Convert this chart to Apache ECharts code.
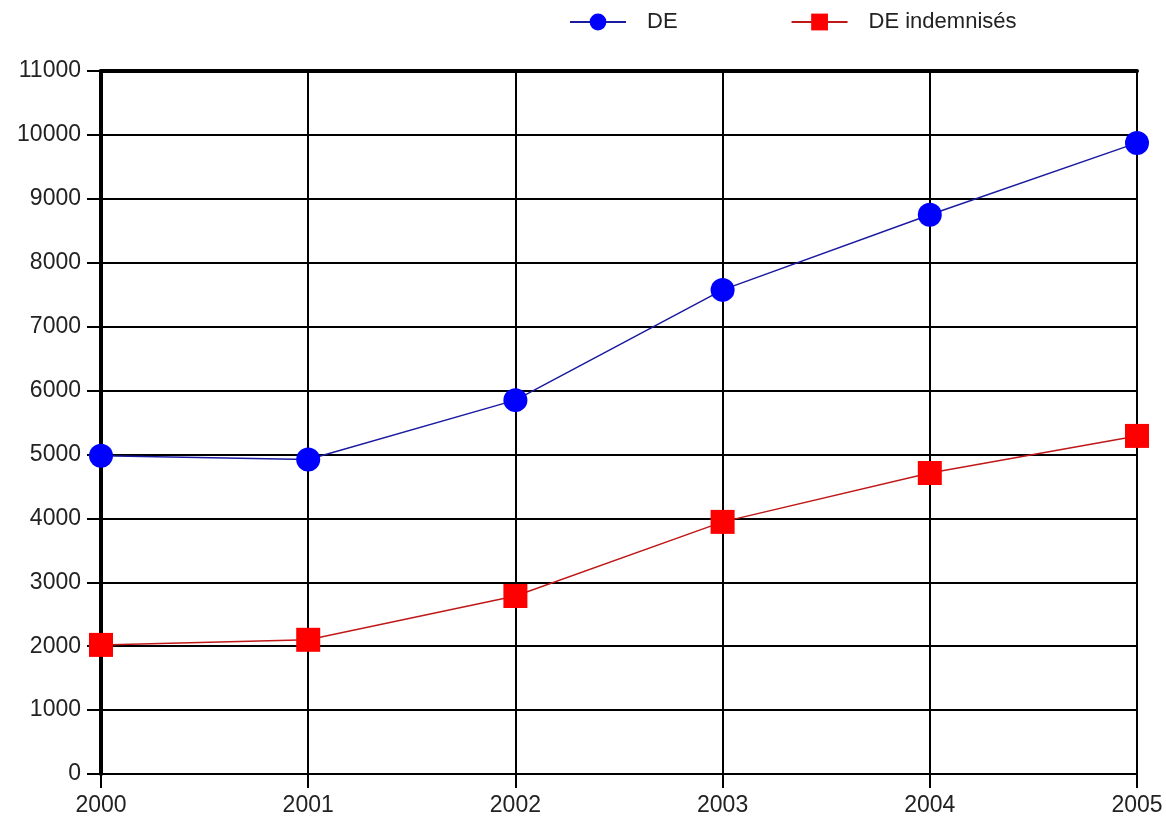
<!DOCTYPE html>
<html><head><meta charset="utf-8">
<script src="https://cdn.jsdelivr.net/npm/echarts@6/dist/echarts.min.js"></script>
<style>html,body{margin:0;padding:0;background:#fff}#c{width:1166px;height:819px}</style>
</head><body><div id="c"></div>
<script>
const categories = ['2000','2001','2002','2003','2004','2005'];
const deValues = [4980, 4920, 5850, 7575, 8750, 9875];
const deIndemnisesValues = [2020, 2100, 2785, 3945, 4710, 5290];
const seriesNames = ['DE', 'DE indemnisés'];

const chart = echarts.init(document.getElementById('c'));
const font = 'Liberation Sans, Arial, sans-serif';
chart.setOption({
  animation: false,
  backgroundColor: '#fff',
  textStyle: {fontFamily: font},
  legend: {
    top: 6, left: 564,
    itemWidth: 56, itemHeight: 21, itemGap: 113,
    textStyle: {fontSize: 22, color: '#222', fontFamily: font, padding: [0,0,0,16]},
    data: seriesNames
  },
  grid: {left: 101, right: 29, top: 71, bottom: 45, containLabel: false},
  xAxis: [{
    type: 'category', data: categories, boundaryGap: false,
    axisLine: {lineStyle: {color: '#000', width: 2}},
    axisTick: {show: true, length: 14, lineStyle: {color: '#000', width: 2}},
    axisLabel: {fontSize: 23, color: '#222', margin: 20, fontFamily: font},
    splitLine: {show: true, lineStyle: {color: '#000', width: 2}}
  },{
    type: 'category', data: categories, boundaryGap: false, position: 'top',
    axisLine: {lineStyle: {color: '#000', width: 4}},
    axisTick: {show: false}, axisLabel: {show: false}
  }],
  yAxis: {
    type: 'value', min: 0, max: 11000, interval: 1000,
    axisLine: {show: true, lineStyle: {color: '#000', width: 4}},
    axisTick: {show: true, length: 14, lineStyle: {color: '#000', width: 2}},
    axisLabel: {fontSize: 23, color: '#222', margin: 20, fontFamily: font, formatter: v => String(v)},
    splitLine: {show: true, lineStyle: {color: '#000', width: 2}}
  },
  series: [{
    name: seriesNames[0], type: 'line', data: deValues,
    symbol: 'circle', symbolSize: 24,
    lineStyle: {color: '#1a1aa0', width: 1.5},
    itemStyle: {color: '#0000ff'}, z: 5
  },{
    name: seriesNames[1], type: 'line', data: deIndemnisesValues,
    symbol: 'rect', symbolSize: 24,
    lineStyle: {color: '#c01818', width: 1.5},
    itemStyle: {color: '#ff0000'}, z: 5
  }]
});
</script></body></html>
